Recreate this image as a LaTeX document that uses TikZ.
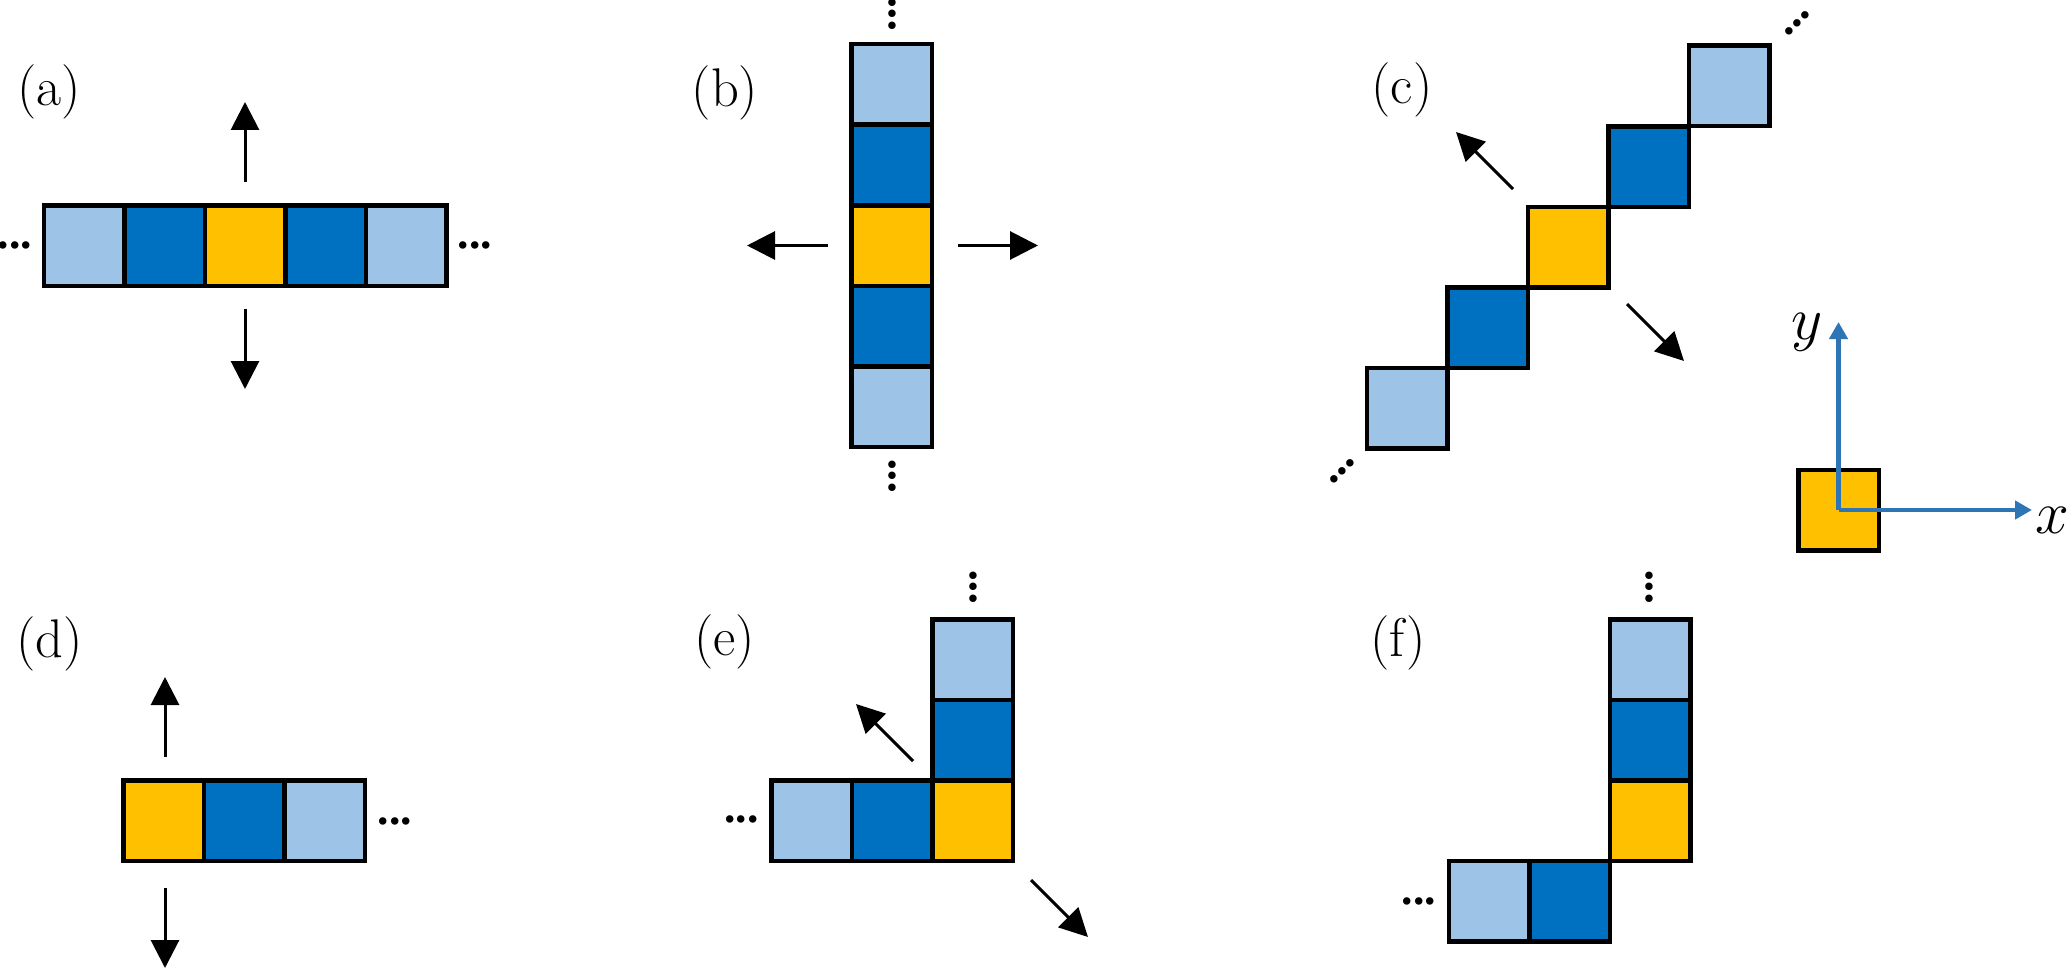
\documentclass[tikz,border=0pt]{standalone}
\usepackage{amsmath}
\usepackage{fontspec}
\newfontfamily\dotfont{Liberation Serif}
\usepackage{xcolor}
\usetikzlibrary{arrows.meta}

\definecolor{lightblue}{HTML}{9DC3E6}
\definecolor{darkblue}{HTML}{0070C0}
\definecolor{gold}{HTML}{FFC000}
\definecolor{axisblue}{HTML}{2E75B6}

\begin{document}
\begin{tikzpicture}[
    cell/.style={draw=black, line width=0.045cm, minimum size=0.805cm, inner sep=0pt, outer sep=0pt},
    far/.style={cell, fill=lightblue},
    near/.style={cell, fill=darkblue},
    centre/.style={cell, fill=gold},
    move/.style={line width=0.03cm, -{Triangle[length=0.28cm, width=0.28cm]}},
    axis/.style={draw=axisblue, line width=0.045cm, -{Triangle[length=0.17cm, width=0.18cm]}},
    more/.style={font=\dotfont\bfseries\fontsize{13}{15}\selectfont, inner sep=0pt},
    panel/.style={font=\fontsize{15.5}{18}\selectfont, inner sep=0pt}
]
        \useasboundingbox (0,0) rectangle (20.67,9.69);

        % (a) horizontal chain
        \node[panel] (la) at (0.49,8.77) {(a)};
        \node[far]    (a1) at (0.84,7.235) {};
        \node[near]   (a2) at (1.645,7.235) {};
        \node[centre] (a3) at (2.45,7.235) {};
        \node[near]   (a4) at (3.255,7.235) {};
        \node[far]    (a5) at (4.06,7.235) {};
        \node[more] (aleft) at (0.15,7.24) {...};
        \node[more] (aright) at (4.75,7.24) {...};
        \coordinate (aup0) at (2.45,7.87);
        \coordinate (aup1) at (2.45,8.67);
        \coordinate (adown0) at (2.45,6.60);
        \coordinate (adown1) at (2.45,5.80);
        \draw[move] (aup0) -- (aup1);
        \draw[move] (adown0) -- (adown1);

        % (b) vertical chain
        \node[panel] (lb) at (7.25,8.76) {(b)};
        \node[far]    (b1) at (8.915,8.845) {};
        \node[near]   (b2) at (8.915,8.04) {};
        \node[centre] (b3) at (8.915,7.235) {};
        \node[near]   (b4) at (8.915,6.43) {};
        \node[far]    (b5) at (8.915,5.625) {};
        \node[more, rotate=90] (btop) at (8.92,9.55) {...};
        \node[more, rotate=90] (bbottom) at (8.92,4.93) {...};
        \coordinate (bleft0) at (8.28,7.235);
        \coordinate (bleft1) at (7.47,7.235);
        \coordinate (bright0) at (9.58,7.235);
        \coordinate (bright1) at (10.38,7.235);
        \draw[move] (bleft0) -- (bleft1);
        \draw[move] (bright0) -- (bright1);

        % (c) diagonal chain
        \node[panel] (lc) at (14.02,8.79) {(c)};
        \node[far]    (c1) at (14.07,5.61) {};
        \node[near]   (c2) at (14.875,6.415) {};
        \node[centre] (c3) at (15.68,7.22) {};
        \node[near]   (c4) at (16.485,8.025) {};
        \node[far]    (c5) at (17.29,8.83) {};
        \node[more, rotate=45] (clow) at (13.42,4.98) {...};
        \node[more, rotate=45] (chigh) at (17.97,9.46) {...};
        \coordinate (cul0) at (15.13,7.80);
        \coordinate (cul1) at (14.56,8.37);
        \coordinate (clr0) at (16.27,6.65);
        \coordinate (clr1) at (16.84,6.08);
        \draw[move] (cul0) -- (cul1);
        \draw[move] (clr0) -- (clr1);

        % Axes
        \node[centre] (o) at (18.385,4.59) {};
        \coordinate (xtip) at (20.32,4.59);
        \coordinate (ytip) at (18.385,6.47);
        \draw[axis] (o.center) -- (xtip);
        \draw[axis] (o.center) -- (ytip);
        \node[font=\fontsize{17.28}{20}\selectfont, inner sep=0pt] (xlab) at (20.52,4.49) {$x$};
        \node[font=\fontsize{17.28}{20}\selectfont, inner sep=0pt] (ylab) at (18.07,6.37) {$y$};

        % (d) end of a horizontal chain
        \node[panel] (ld) at (0.495,3.255) {(d)};
        \node[centre] (d1) at (1.635,1.485) {};
        \node[near]   (d2) at (2.44,1.485) {};
        \node[far]    (d3) at (3.245,1.485) {};
        \node[more] (dright) at (3.95,1.48) {...};
        \coordinate (dup0) at (1.65,2.12);
        \coordinate (dup1) at (1.65,2.92);
        \coordinate (ddown0) at (1.65,0.81);
        \coordinate (ddown1) at (1.65,0.01);
        \draw[move] (dup0) -- (dup1);
        \draw[move] (ddown0) -- (ddown1);

        % (e) corner
        \node[panel] (le) at (7.245,3.27) {(e)};
        \node[far]    (e1) at (8.115,1.485) {};
        \node[near]   (e2) at (8.92,1.485) {};
        \node[centre] (e3) at (9.725,1.485) {};
        \node[near]   (e4) at (9.725,2.29) {};
        \node[far]    (e5) at (9.725,3.095) {};
        \node[more] (eleft) at (7.415,1.50) {...};
        \node[more, rotate=90] (etop) at (9.73,3.82) {...};
        \coordinate (eul0) at (9.13,2.08);
        \coordinate (eul1) at (8.56,2.65);
        \coordinate (elr0) at (10.31,0.89);
        \coordinate (elr1) at (10.88,0.32);
        \draw[move] (eul0) -- (eul1);
        \draw[move] (elr0) -- (elr1);

        % (f) step
        \node[panel] (lf) at (13.98,3.26) {(f)};
        \node[far]    (f1) at (14.89,0.68) {};
        \node[near]   (f2) at (15.695,0.68) {};
        \node[centre] (f3) at (16.50,1.485) {};
        \node[near]   (f4) at (16.50,2.29) {};
        \node[far]    (f5) at (16.50,3.095) {};
        \node[more] (fleft) at (14.19,0.68) {...};
        \node[more, rotate=90] (ftop) at (16.49,3.82) {...};

    \end{tikzpicture}
\end{document}
